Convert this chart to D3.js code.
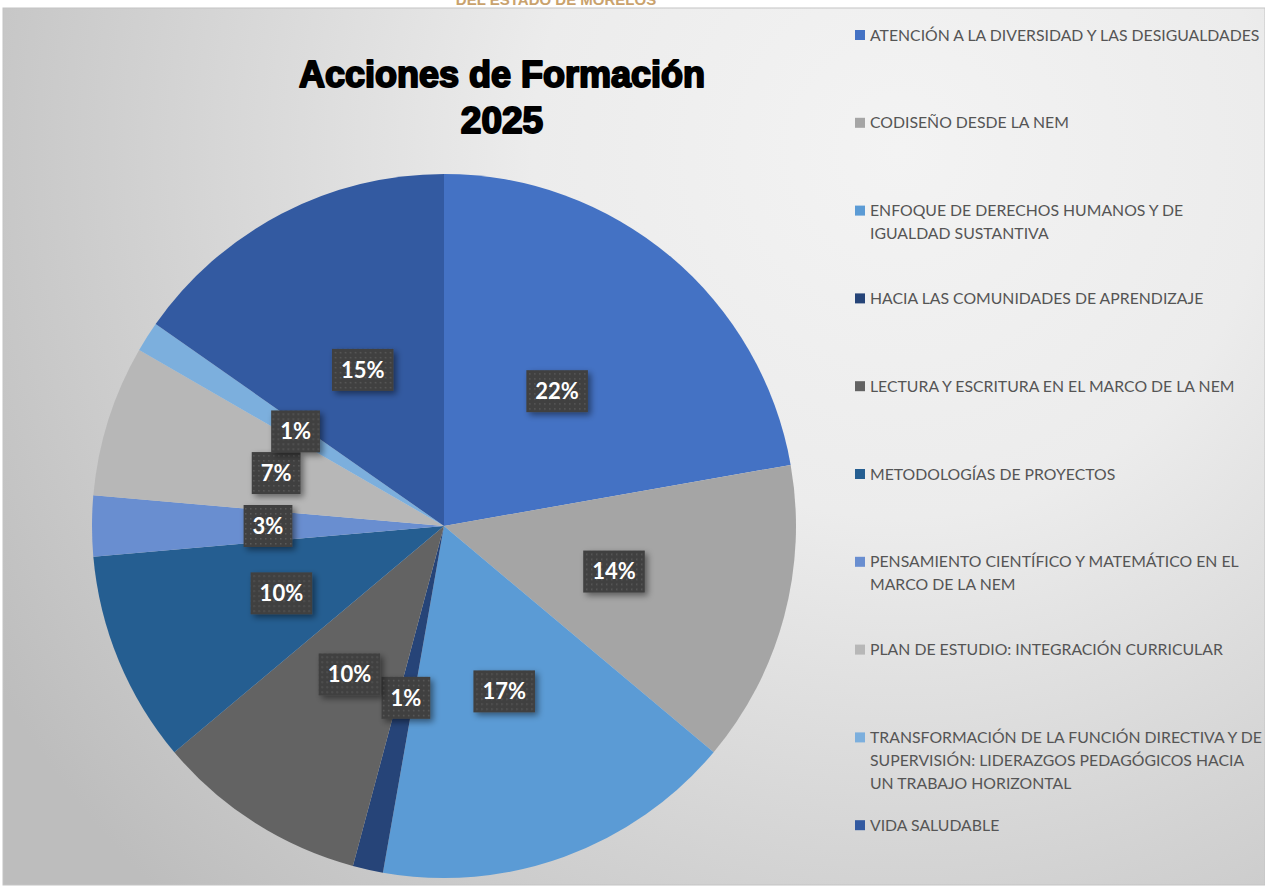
<!DOCTYPE html>
<html>
<head>
<meta charset="utf-8">
<script src="https://cdn.jsdelivr.net/npm/d3@7"></script>
<style>
  body { margin: 0; background: #fff; }
  svg { display: block; }
</style>
</head>
<body>
<svg id="chart"></svg>
<script>
// categories, counts (percent labels come from these) and slice colours
const categories = [
  "ATENCIÓN A LA DIVERSIDAD Y LAS DESIGUALDADES",
  "CODISEÑO DESDE LA NEM",
  "ENFOQUE DE DERECHOS HUMANOS Y DE IGUALDAD SUSTANTIVA",
  "HACIA LAS COMUNIDADES DE APRENDIZAJE",
  "LECTURA Y ESCRITURA EN EL MARCO DE LA NEM",
  "METODOLOGÍAS DE PROYECTOS",
  "PENSAMIENTO CIENTÍFICO Y MATEMÁTICO EN EL MARCO DE LA NEM",
  "PLAN DE ESTUDIO: INTEGRACIÓN CURRICULAR",
  "TRANSFORMACIÓN DE LA FUNCIÓN DIRECTIVA Y DE SUPERVISIÓN: LIDERAZGOS PEDAGÓGICOS HACIA UN TRABAJO HORIZONTAL",
  "VIDA SALUDABLE"
];
const counts = [16, 10, 12, 1, 7, 7, 2, 5, 1, 11];
const colors = ["#4472C4", "#A5A5A5", "#5B9BD5", "#264478", "#636363",
                "#255E91", "#698ED0", "#B7B7B7", "#7CAFDD", "#335AA1"];
const titleLines = ["Acciones de Formación", "2025"];
const headerText = "DEL ESTADO DE MORELOS";

const width = 1265, height = 887;
const cx = 444, cy = 526, radius = 352;

const svg = d3.select("#chart").attr("width", width).attr("height", height);
const defs = svg.append("defs");

// background gradient
const grad = defs.append("radialGradient")
  .attr("id", "bg")
  .attr("gradientUnits", "userSpaceOnUse")
  .attr("cx", 900).attr("cy", 150).attr("r", 1050);
grad.append("stop").attr("offset", "0").attr("stop-color", "#f3f3f3");
grad.append("stop").attr("offset", "0.35").attr("stop-color", "#ececec");
grad.append("stop").attr("offset", "1").attr("stop-color", "#bdbdbd");

// dotted fill for the label boxes
const pat = defs.append("pattern")
  .attr("id", "dots")
  .attr("patternUnits", "userSpaceOnUse")
  .attr("width", 5).attr("height", 5);
pat.append("rect").attr("width", 5).attr("height", 5).attr("fill", "#404040");
pat.append("rect").attr("x", 2).attr("y", 2).attr("width", 1.5).attr("height", 1.5).attr("fill", "#5a5a5a");

const shadow = defs.append("filter").attr("id", "shadow")
  .attr("x", "-30%").attr("y", "-30%").attr("width", "160%").attr("height", "170%");
shadow.append("feDropShadow")
  .attr("dx", 3).attr("dy", 3).attr("stdDeviation", 3)
  .attr("flood-color", "#000").attr("flood-opacity", 0.45);

// header text, cut off at the top like the source
svg.append("text")
  .attr("x", 556).attr("y", 5)
  .attr("text-anchor", "middle")
  .attr("font-family", "Liberation Sans, Arial, sans-serif")
  .attr("font-weight", "bold")
  .attr("font-size", 15)
  .attr("fill", "#c9a26d")
  .text(headerText);

svg.append("rect")
  .attr("x", 3).attr("y", 8)
  .attr("width", width - 3).attr("height", 877)
  .attr("fill", "url(#bg)")
  .attr("stroke", "#c4c4c4")
  .attr("stroke-width", 1);

// title
svg.append("g").selectAll("text")
  .data(titleLines)
  .join("text")
  .attr("x", 502)
  .attr("y", (d, i) => 87 + i * 46)
  .attr("text-anchor", "middle")
  .attr("font-family", "Liberation Sans, Arial, sans-serif")
  .attr("font-weight", "bold")
  .attr("font-size", (d, i) => i ? 37 : 36)
  .attr("fill", "#000")
  .attr("stroke", "#000")
  .attr("stroke-width", 2)
  .attr("stroke-linejoin", "round")
  .text(d => d);

// pie
const total = d3.sum(counts);
const pie = d3.pie().sort(null).value(d => d)(counts);
const arc = d3.arc().innerRadius(0).outerRadius(radius);

const g = svg.append("g").attr("transform", `translate(${cx},${cy})`);
g.selectAll("path")
  .data(pie)
  .join("path")
  .attr("d", arc)
  .attr("fill", (d, i) => colors[i]);

// data labels
const labels = g.selectAll("g.lbl")
  .data(pie)
  .join("g")
  .attr("class", "lbl")
  .attr("transform", d => `translate(${arc.centroid(d)})`);

labels.each(function(d) {
  const sel = d3.select(this);
  const txt = Math.round(d.value / total * 100) + "%";
  const rect = sel.append("rect").attr("fill", "url(#dots)").attr("filter", "url(#shadow)");
  const t = sel.append("text")
    .attr("text-anchor", "middle")
    .attr("dy", "0.36em")
    .attr("font-family", "Lato, sans-serif")
    .attr("font-weight", "bold")
    .attr("font-size", 22)
    .attr("fill", "#fff")
    .text(txt);
  const w = t.node().getComputedTextLength() + 18;
  rect.attr("x", -w / 2).attr("y", -21).attr("width", w).attr("height", 42);
});

// legend
const legX = 855, legY0 = 35, legStep = 87.8, lineH = 23, maxW = 396;
const leg = svg.append("g");
categories.forEach((name, i) => {
  const y = legY0 + i * legStep;
  leg.append("rect")
    .attr("x", legX).attr("y", y - 5)
    .attr("width", 10).attr("height", 10)
    .attr("fill", colors[i]);
  const t = leg.append("text")
    .attr("x", legX + 15)
    .attr("font-family", "Lato, sans-serif")
    .attr("font-size", 15.8)
    .attr("fill", "#555")
    .attr("lengthAdjust", "spacingAndGlyphs");
  // simple word wrap
  const words = name.split(" ");
  let line = [], n = 0;
  let ts = t.append("tspan").attr("x", legX + 15).attr("y", y).attr("dy", "0.35em");
  words.forEach(wd => {
    line.push(wd);
    ts.text(line.join(" "));
    if (ts.node().getComputedTextLength() > maxW && line.length > 1) {
      line.pop();
      ts.text(line.join(" "));
      line = [wd];
      n++;
      ts = t.append("tspan").attr("x", legX + 15).attr("y", y + n * lineH).attr("dy", "0.35em").text(wd);
    }
  });
});
</script>
</body>
</html>
